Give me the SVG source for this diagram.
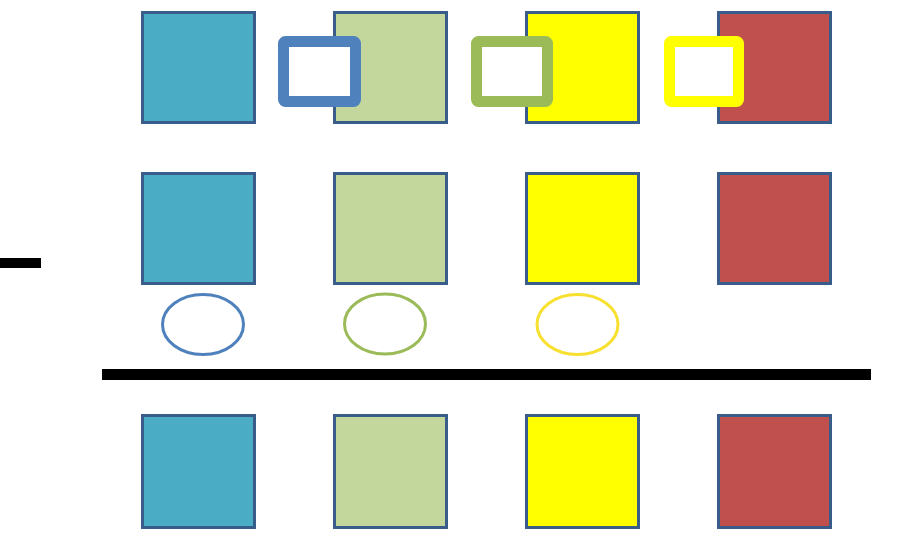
<svg xmlns="http://www.w3.org/2000/svg" width="900" height="534" viewBox="0 0 900 534">
<style>
.sq{stroke:#385d8a;stroke-width:3}
.c1{fill:#4bacc6}.c2{fill:#c3d69b}.c3{fill:#ffff00}.c4{fill:#c0504d}
.fr{fill:#ffffff;stroke-width:11}
.el{fill:#ffffff;stroke-width:3}
.bar{fill:#000000}
</style>
<rect width="900" height="534" fill="#ffffff"/>
<g id="row1">
<rect id="r1a" class="sq c1" x="142.5" y="12.5" width="112" height="110"/>
<rect id="r1b" class="sq c2" x="334.5" y="12.5" width="112" height="110"/>
<rect id="r1c" class="sq c3" x="526.5" y="12.5" width="112" height="110"/>
<rect id="r1d" class="sq c4" x="718.5" y="12.5" width="112" height="110"/>
</g>
<g id="frames">
<rect id="f1" class="fr" x="283.5" y="41.5" width="72" height="60" rx="2" stroke="#4f81bd"/>
<rect id="f2" class="fr" x="476.5" y="41.5" width="71" height="60" rx="2" stroke="#9bbb59"/>
<rect id="f3" class="fr" x="669.5" y="41.5" width="69" height="60" rx="2" stroke="#ffff00"/>
</g>
<g id="row2">
<rect id="r2a" class="sq c1" x="142.5" y="173.5" width="112" height="110"/>
<rect id="r2b" class="sq c2" x="334.5" y="173.5" width="112" height="110"/>
<rect id="r2c" class="sq c3" x="526.5" y="173.5" width="112" height="110"/>
<rect id="r2d" class="sq c4" x="718.5" y="173.5" width="112" height="110"/>
</g>
<g id="ellipses">
<ellipse id="e1" class="el" cx="203" cy="324.5" rx="40.5" ry="30" stroke="#4f81bd"/>
<ellipse id="e2" class="el" cx="385" cy="324" rx="40.5" ry="30" stroke="#9bbb59"/>
<ellipse id="e3" class="el" cx="577.5" cy="324.5" rx="40.5" ry="30" stroke="#f8e030"/>
</g>
<g id="bars">
<rect class="bar" x="0" y="258" width="41" height="10"/>
<rect class="bar" x="102" y="369" width="769" height="11"/>
</g>
<g id="row3">
<rect id="r3a" class="sq c1" x="142.5" y="415.5" width="112" height="112"/>
<rect id="r3b" class="sq c2" x="334.5" y="415.5" width="112" height="112"/>
<rect id="r3c" class="sq c3" x="526.5" y="415.5" width="112" height="112"/>
<rect id="r3d" class="sq c4" x="718.5" y="415.5" width="112" height="112"/>
</g>
</svg>
